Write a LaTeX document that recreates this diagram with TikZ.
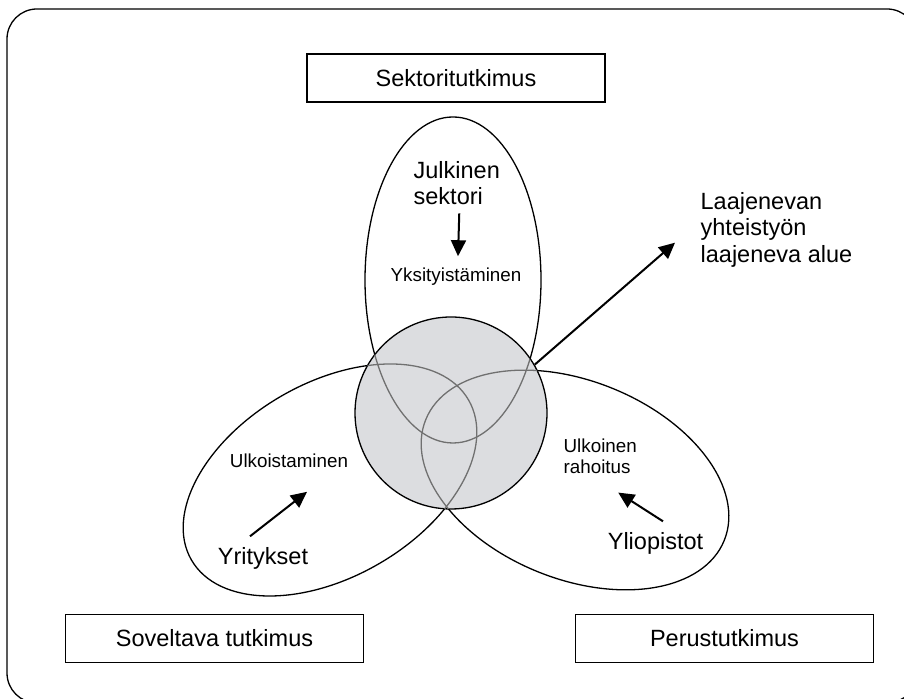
\documentclass[tikz,border=0pt]{standalone}
\usepackage{fontspec}
\setmainfont{Liberation Sans}
\usepackage{tikz}
\usetikzlibrary{arrows.meta}
\definecolor{coregray}{RGB}{220,221,224}
\definecolor{lensgray}{RGB}{112,112,112}
\newcommand{\petals}{%
	\draw (453,419) ellipse [x radius=88, y radius=163];
	\draw[rotate around={30:(330,219)}] (330,219) ellipse [x radius=160, y radius=97];
	\draw[rotate around={-22:(575,219)}] (575,219) ellipse [x radius=161, y radius=99];}

\begin{document}
\begin{tikzpicture}[x=0.5pt, y=0.5pt, line width=0.65pt,
		big/.style={font=\fontsize{11.75}{13.35}\selectfont, inner sep=0pt},
		small/.style={font=\fontsize{9.4}{10.5}\selectfont, inner sep=0pt},
		field/.style={draw, line width=0.85pt, minimum width=149pt, minimum height=24pt, font=\fontsize{11.75}{14}\selectfont},
		arr/.style={line width=1pt, -{Triangle[length=8pt, width=7.5pt]}}]
		\useasboundingbox (0,0) rectangle (904,699);
		\draw[rounded corners=15pt] (7,690) rectangle (917,-4);
		\node[field] (sektori) at (456,621) {Sektoritutkimus};
		\node[field] (sovelt) at (214.5,60.5) {Soveltava tutkimus};
		\node[field] (perus) at (724.5,60.5) {Perustutkimus};
		\petals
		\node[circle, draw, fill=coregray, minimum size=96pt, inner sep=0pt] (core) at (451,286) {};
		\begin{scope}[lensgray]
			\clip (451,286) circle (96);
			\petals
		\end{scope}
		\node[big, anchor=north west, align=left] (julk) at (413,538.5) {Julkinen\\sektori};
		\node[small, anchor=base] (yksit) at (456,417) {Yksityistäminen};
		\node[small, anchor=base] (ulkoist) at (289,231) {Ulkoistaminen};
		\node[big, anchor=base] (yrit) at (263,134) {Yritykset};
		\node[small, anchor=north west, align=left] (ulkoin) at (563,260.5) {Ulkoinen\\rahoitus};
		\node[big, anchor=base] (yliop) at (655.5,149) {Yliopistot};
		\node[big, anchor=north west, align=left] (laaj) at (700,507.6) {Laajenevan\\yhteistyön\\laajeneva alue};
		\draw[arr] ([shift={(2.5,-7.7)}]julk.south) -- ([shift={(2,11.5)}]yksit.north);
		\draw[arr] ([shift={(-13,11)}]yrit.north) -- ([shift={(18,-23)}]ulkoist.south);
		\draw[arr] ([shift={(7.5,11)}]yliop.north) -- ([shift={(18,-18)}]ulkoin.south);
		\draw[arr] (core.30) -- ([shift={(-25,-13)}]laaj.west);
	\end{tikzpicture}
\end{document}
